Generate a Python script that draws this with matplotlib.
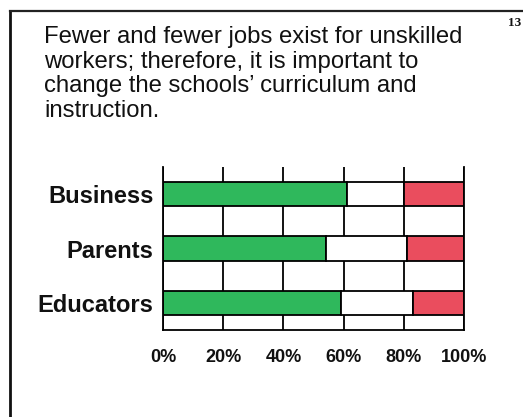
import matplotlib
matplotlib.use("Agg")
import matplotlib.pyplot as plt
from matplotlib.lines import Line2D

groups = ["Business", "Parents", "Educators"]
agree = [61, 54, 59]
neutral = [19, 27, 24]
disagree = [20, 19, 17]
tick_vals = [0, 20, 40, 60, 80, 100]
tick_labels = ["0%", "20%", "40%", "60%", "80%", "100%"]
title = ("Fewer and fewer jobs exist for unskilled\n"
         "workers; therefore, it is important to\n"
         "change the schools\u2019 curriculum and\n"
         "instruction.")

plt.rcParams['font.family'] = ['Liberation Sans', 'DejaVu Sans']

fig = plt.figure(figsize=(5.23, 4.17), dpi=100)
fig.patch.set_facecolor("white")

# slide frame
fig.add_artist(Line2D([10/523, 10/523], [0, 1 - 11/417], transform=fig.transFigure,
                      color="#111111", lw=2))
fig.add_artist(Line2D([10/523, 1], [1 - 11/417, 1 - 11/417], transform=fig.transFigure,
                      color="#222222", lw=1.6))

fig.text(44/523, 1 - 26/417, title, ha="left", va="top", fontsize=17.2,
         linespacing=1.15, color="#111111")
fig.text(508/523, 1 - 17/417, "13", ha="left", va="top", fontsize=9.5,
         family=["Liberation Serif", "DejaVu Serif"], fontweight="bold", color="#111111")

ax = fig.add_axes([163/523, 1 - 330/417, 301/523, 163/417])
y = list(range(len(groups)))
h = 0.45
ax.set_axisbelow(True)
ax.xaxis.grid(True, color="black", lw=1.3)
left2 = [a for a in agree]
left3 = [a + n for a, n in zip(agree, neutral)]
ax.barh(y, agree, height=h, color="#2fb85c", edgecolor="black", lw=1.3)
ax.barh(y, neutral, left=left2, height=h, color="white", edgecolor="black", lw=1.3)
ax.barh(y, disagree, left=left3, height=h, color="#ea4d5e", edgecolor="black", lw=1.3)

ax.set_xlim(0, 100)
ax.set_ylim(2.5, -0.5)
ax.set_xticks(tick_vals)
ax.set_xticklabels(tick_labels, fontsize=13, fontweight="bold", color="#111111")
ax.set_yticks(y)
ax.set_yticklabels(groups, fontsize=17, fontweight="bold", color="#111111")
ax.tick_params(axis="both", length=0)
ax.tick_params(axis="x", pad=14)
ax.tick_params(axis="y", pad=7)
for s in ["top"]:
    ax.spines[s].set_visible(False)
for s in ["left", "right", "bottom"]:
    ax.spines[s].set_linewidth(1.3)

fig.savefig("out.png", dpi=100, facecolor="white")
